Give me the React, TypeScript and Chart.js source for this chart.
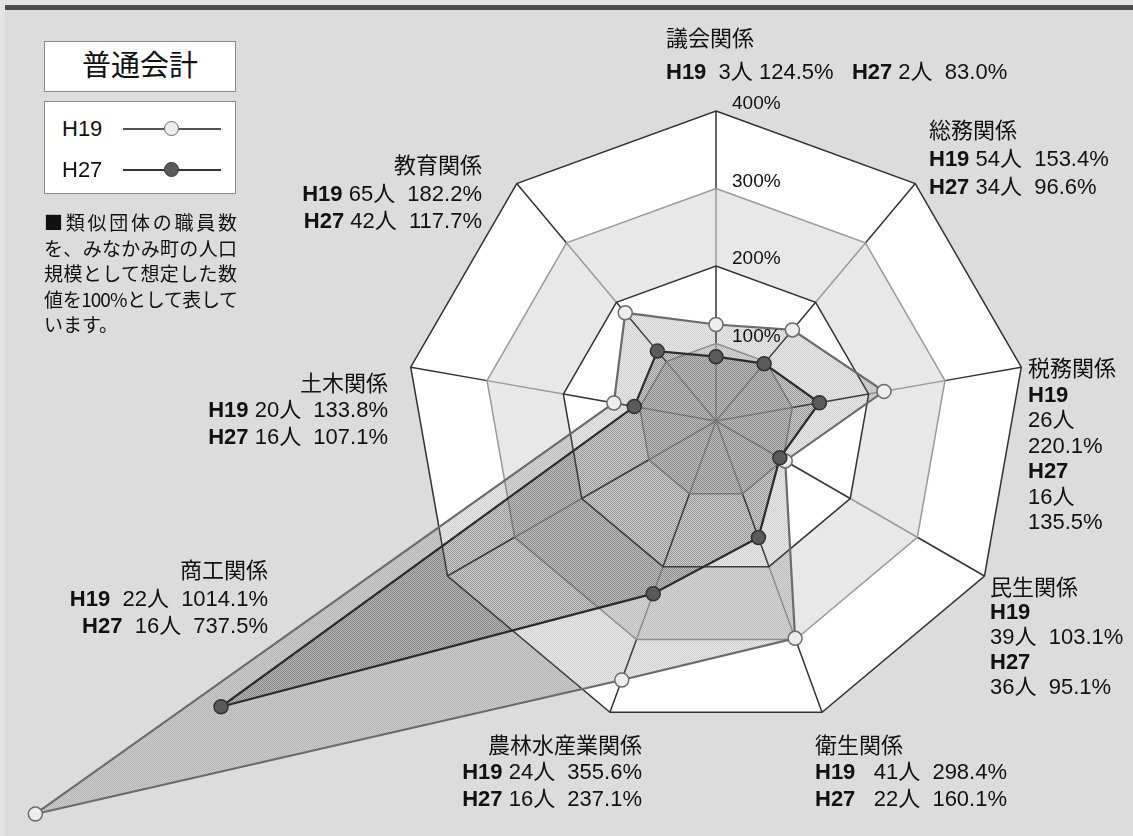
import React, { useEffect, useRef } from "react";
import { Chart, registerables } from "chart.js";

Chart.register(...registerables);

// ---------------- data ----------------
const categories = [
  "議会関係",
  "総務関係",
  "税務関係",
  "民生関係",
  "衛生関係",
  "農林水産業関係",
  "商工関係",
  "土木関係",
  "教育関係",
];
const seriesNames = ["H19", "H27"];
const h19Pct = [124.5, 153.4, 220.1, 103.1, 298.4, 355.6, 1014.1, 133.8, 182.2];
const h27Pct = [83.0, 96.6, 135.5, 95.1, 160.1, 237.1, 737.5, 107.1, 117.7];
const h19Staff = [3, 54, 26, 39, 41, 24, 22, 20, 65];
const h27Staff = [2, 34, 16, 36, 22, 16, 16, 16, 42];
const tickValues = [100, 200, 300, 400];
const titleText = "普通会計";
const noteLines = [
  "■類似団体の職員数",
  "を、みなかみ町の人口",
  "規模として想定した数",
  "値を100%として表して",
  "います。",
];

// ---------------- layout / style ----------------
const W = 1133;
const H = 836;
const CX = 716;
const CY = 421;
const RADIUS = 310;
const FONT = '"Liberation Sans", Arial, "Noto Sans CJK JP", sans-serif';
const NOTE_FONT = '"Noto Sans CJK JP", "Liberation Sans", sans-serif';
const TEXT = "#111";

const pct = (v: number) => v.toFixed(1) + "%";
const ppl = (n: number) => `${n}人`;

type Seg = { t: string; b?: boolean };
type Block = { x: number; align: "left" | "right"; cy: number; lh: number; lines: Seg[][] };

function rowsStd(i: number, gap1 = " ", gap2 = "  "): Seg[][] {
  return [
    [{ t: seriesNames[0], b: true }, { t: `${gap1}${ppl(h19Staff[i])}${gap2}${pct(h19Pct[i])}` }],
    [{ t: seriesNames[1], b: true }, { t: `${gap1}${ppl(h27Staff[i])}${gap2}${pct(h27Pct[i])}` }],
  ];
}

const blocks: Block[] = [
  {
    x: 666, align: "left", cy: 38, lh: 33,
    lines: [
      [{ t: categories[0] }],
      [
        { t: seriesNames[0], b: true },
        { t: `  ${ppl(h19Staff[0])} ${pct(h19Pct[0])}   ` },
        { t: seriesNames[1], b: true },
        { t: ` ${ppl(h27Staff[0])}  ${pct(h27Pct[0])}` },
      ],
    ],
  },
  { x: 929, align: "left", cy: 131, lh: 28, lines: [[{ t: categories[1] }], ...rowsStd(1)] },
  {
    x: 1028, align: "left", cy: 369, lh: 25.5,
    lines: [
      [{ t: categories[2] }],
      [{ t: seriesNames[0], b: true }],
      [{ t: ppl(h19Staff[2]) }],
      [{ t: pct(h19Pct[2]) }],
      [{ t: seriesNames[1], b: true }],
      [{ t: ppl(h27Staff[2]) }],
      [{ t: pct(h27Pct[2]) }],
    ],
  },
  {
    x: 990, align: "left", cy: 588, lh: 24.8,
    lines: [
      [{ t: categories[3] }],
      [{ t: seriesNames[0], b: true }],
      [{ t: `${ppl(h19Staff[3])}  ${pct(h19Pct[3])}` }],
      [{ t: seriesNames[1], b: true }],
      [{ t: `${ppl(h27Staff[3])}  ${pct(h27Pct[3])}` }],
    ],
  },
  { x: 815, align: "left", cy: 746, lh: 26.5, lines: [[{ t: categories[4] }], ...rowsStd(4, "   ", "  ")] },
  { x: 642, align: "right", cy: 746, lh: 26.5, lines: [[{ t: categories[5] }], ...rowsStd(5)] },
  { x: 268, align: "right", cy: 571, lh: 27.5, lines: [[{ t: categories[6] }], ...rowsStd(6, "  ", "  ")] },
  { x: 388, align: "right", cy: 384, lh: 26.5, lines: [[{ t: categories[7] }], ...rowsStd(7)] },
  { x: 482, align: "right", cy: 166, lh: 27.5, lines: [[{ t: categories[8] }], ...rowsStd(8)] },
];

function makePattern(ctx: CanvasRenderingContext2D, rgb: string, a: number, b: number) {
  const c = document.createElement("canvas");
  c.width = 2;
  c.height = 2;
  const g = c.getContext("2d")!;
  g.fillStyle = `rgba(${rgb},${a})`;
  g.fillRect(0, 0, 1, 1);
  g.fillRect(1, 1, 1, 1);
  g.fillStyle = `rgba(${rgb},${b})`;
  g.fillRect(1, 0, 1, 1);
  g.fillRect(0, 1, 1, 1);
  return ctx.createPattern(c, "repeat");
}

const bandPlugin = {
  id: "bandGrid",
  beforeDatasetsDraw(chart: any) {
    const scale = chart.scales.r;
    const ctx: CanvasRenderingContext2D = chart.ctx;
    const n = chart.data.labels.length;
    const poly = (v: number) => {
      const d = scale.getDistanceFromCenterForValue(v);
      ctx.beginPath();
      for (let i = 0; i < n; i++) {
        const p = scale.getPointPosition(i, d);
        if (i === 0) ctx.moveTo(p.x, p.y);
        else ctx.lineTo(p.x, p.y);
      }
      ctx.closePath();
    };
    ctx.save();
    const rev = [...tickValues].reverse();
    rev.forEach((v, k) => {
      poly(v);
      ctx.fillStyle = k % 2 === 0 ? "#ffffff" : "#e8e8e8";
      ctx.fill();
    });
    ctx.lineWidth = 1.5;
    for (let i = 0; i < n; i++) {
      let prev = 0;
      tickValues.forEach((v, k) => {
        const a = scale.getPointPosition(i, scale.getDistanceFromCenterForValue(prev));
        const b = scale.getPointPosition(i, scale.getDistanceFromCenterForValue(v));
        ctx.beginPath();
        ctx.moveTo(a.x, a.y);
        ctx.lineTo(b.x, b.y);
        ctx.strokeStyle = k % 2 === 0 ? "#9a9a9a" : "#333333";
        ctx.stroke();
        prev = v;
      });
    }
    tickValues.forEach((v, k) => {
      poly(v);
      ctx.strokeStyle = k % 2 === 0 ? "#9a9a9a" : "#333333";
      ctx.stroke();
    });
    ctx.restore();
  },
  afterDatasetsDraw(chart: any) {
    const scale = chart.scales.r;
    const ctx: CanvasRenderingContext2D = chart.ctx;
    ctx.save();
    ctx.font = `19px ${FONT}`;
    ctx.fillStyle = TEXT;
    ctx.textAlign = "left";
    ctx.textBaseline = "middle";
    tickValues.forEach((v) => {
      const p = scale.getPointPosition(0, scale.getDistanceFromCenterForValue(v));
      ctx.fillText(`${v}%`, p.x + 16, p.y - 7);
    });
    ctx.restore();
  },
};

function ChartCanvas() {
  const ref = useRef<HTMLCanvasElement>(null);
  useEffect(() => {
    const canvas = ref.current!;
    const ctx = canvas.getContext("2d")!;
    const p19 = makePattern(ctx, "95,95,95", 0.32, 0.12);
    const p27 = makePattern(ctx, "60,60,60", 0.4, 0.14);
    const chart = new Chart(canvas, {
      type: "radar",
      data: {
        labels: categories,
        datasets: [
          {
            label: seriesNames[0],
            data: h19Pct,
            borderColor: "#6b6b6b",
            borderWidth: 2.2,
            backgroundColor: p19 as any,
            fill: true,
            tension: 0,
            pointRadius: 7,
            pointBorderWidth: 1.5,
            pointBackgroundColor: "#ededed",
            pointBorderColor: "#6b6b6b",
            clip: false as any,
            order: 1,
          },
          {
            label: seriesNames[1],
            data: h27Pct,
            borderColor: "#2c2c2c",
            borderWidth: 2.2,
            backgroundColor: p27 as any,
            fill: true,
            tension: 0,
            pointRadius: 7,
            pointBorderWidth: 1.5,
            pointBackgroundColor: "#5a5a5a",
            pointBorderColor: "#333333",
            clip: false as any,
            order: 0,
          },
        ],
      },
      options: {
        animation: false,
        responsive: false,
        devicePixelRatio: 1,
        layout: { padding: 0 },
        plugins: { legend: { display: false }, tooltip: { enabled: false }, title: { display: false } },
        scales: {
          r: {
            min: 0,
            max: 400,
            ticks: { display: false, stepSize: 100 },
            grid: { display: false },
            angleLines: { display: false },
            pointLabels: { display: false },
            afterFit: (s: any) => {
              s.xCenter = CX;
              s.yCenter = CY;
              s.drawingArea = RADIUS;
            },
          } as any,
        },
      },
      plugins: [bandPlugin],
    });
    return () => chart.destroy();
  }, []);
  return <canvas ref={ref} width={W} height={H} style={{ position: "absolute", left: 0, top: 0, width: W, height: H }} />;
}

function LabelBlock({ b }: { b: Block }) {
  const style: React.CSSProperties = {
    position: "absolute",
    top: b.cy - b.lh / 2,
    lineHeight: `${b.lh}px`,
    fontSize: 22,
    fontFamily: FONT,
    color: TEXT,
    whiteSpace: "pre",
    textAlign: b.align,
  };
  if (b.align === "left") style.left = b.x;
  else style.right = W - b.x;
  return (
    <div style={style}>
      {b.lines.map((line, i) => (
        <div key={i}>
          {line.map((s, j) => (
            <span key={j} style={{ fontWeight: s.b ? 700 : 400 }}>
              {s.t}
            </span>
          ))}
        </div>
      ))}
    </div>
  );
}

function LegendRow({ name, top, fill, stroke, lineColor }: any) {
  return (
    <div style={{ position: "absolute", left: 0, top, width: 192, height: 30 }}>
      <div style={{ position: "absolute", left: 17, top: 0, lineHeight: "30px", fontSize: 22, fontFamily: FONT, color: TEXT }}>
        {name}
      </div>
      <div style={{ position: "absolute", left: 78, top: 14, width: 98, height: 0, borderTop: `2px solid ${lineColor}` }} />
      <div
        style={{
          position: "absolute",
          left: 119,
          top: 7,
          width: 13,
          height: 13,
          borderRadius: "50%",
          background: fill,
          border: `1.5px solid ${stroke}`,
        }}
      />
    </div>
  );
}

export default function App() {
  return (
    <div style={{ position: "fixed", left: 0, top: 0, width: W, height: H, background: "#e4e4e4", overflow: "hidden" }}>
      <div style={{ position: "absolute", left: 5, top: 5, right: 0, bottom: 0, background: "#dcdcdc" }} />
      <div style={{ position: "absolute", left: 5, top: 5, right: 0, height: 5, background: "#4d4d4d" }} />
      <ChartCanvas />
      {blocks.map((b, i) => (
        <LabelBlock key={i} b={b} />
      ))}
      <div
        style={{
          position: "absolute",
          left: 44,
          top: 41,
          width: 190,
          height: 49,
          background: "#fff",
          border: "1px solid #8a8a8a",
          textAlign: "center",
          lineHeight: "49px",
          fontSize: 29,
          fontFamily: FONT,
          color: TEXT,
        }}
      >
        {titleText}
      </div>
      <div
        style={{
          position: "absolute",
          left: 44,
          top: 101,
          width: 190,
          height: 91,
          background: "#fff",
          border: "1px solid #8a8a8a",
        }}
      >
        <LegendRow name={seriesNames[0]} top={12} fill="#ededed" stroke="#6b6b6b" lineColor="#555" />
        <LegendRow name={seriesNames[1]} top={53} fill="#5a5a5a" stroke="#333" lineColor="#333" />
      </div>
      <div
        style={{
          position: "absolute",
          left: 44,
          top: 209,
          width: 193,
          fontSize: 19,
          lineHeight: "25.5px",
          fontFamily: NOTE_FONT,
          color: TEXT,
        }}
      >
        {noteLines.map((l, i) => {
          const justify = i < noteLines.length - 1;
          return (
            <div
              key={i}
              style={{
                height: 25.5,
                whiteSpace: "nowrap",
                letterSpacing: i === 3 ? "-1px" : undefined,
                textAlign: justify ? "justify" : "left",
                textAlignLast: justify ? "justify" : "left",
                textJustify: "inter-character",
              } as any}
            >
              {l}
            </div>
          );
        })}
      </div>
    </div>
  );
}
